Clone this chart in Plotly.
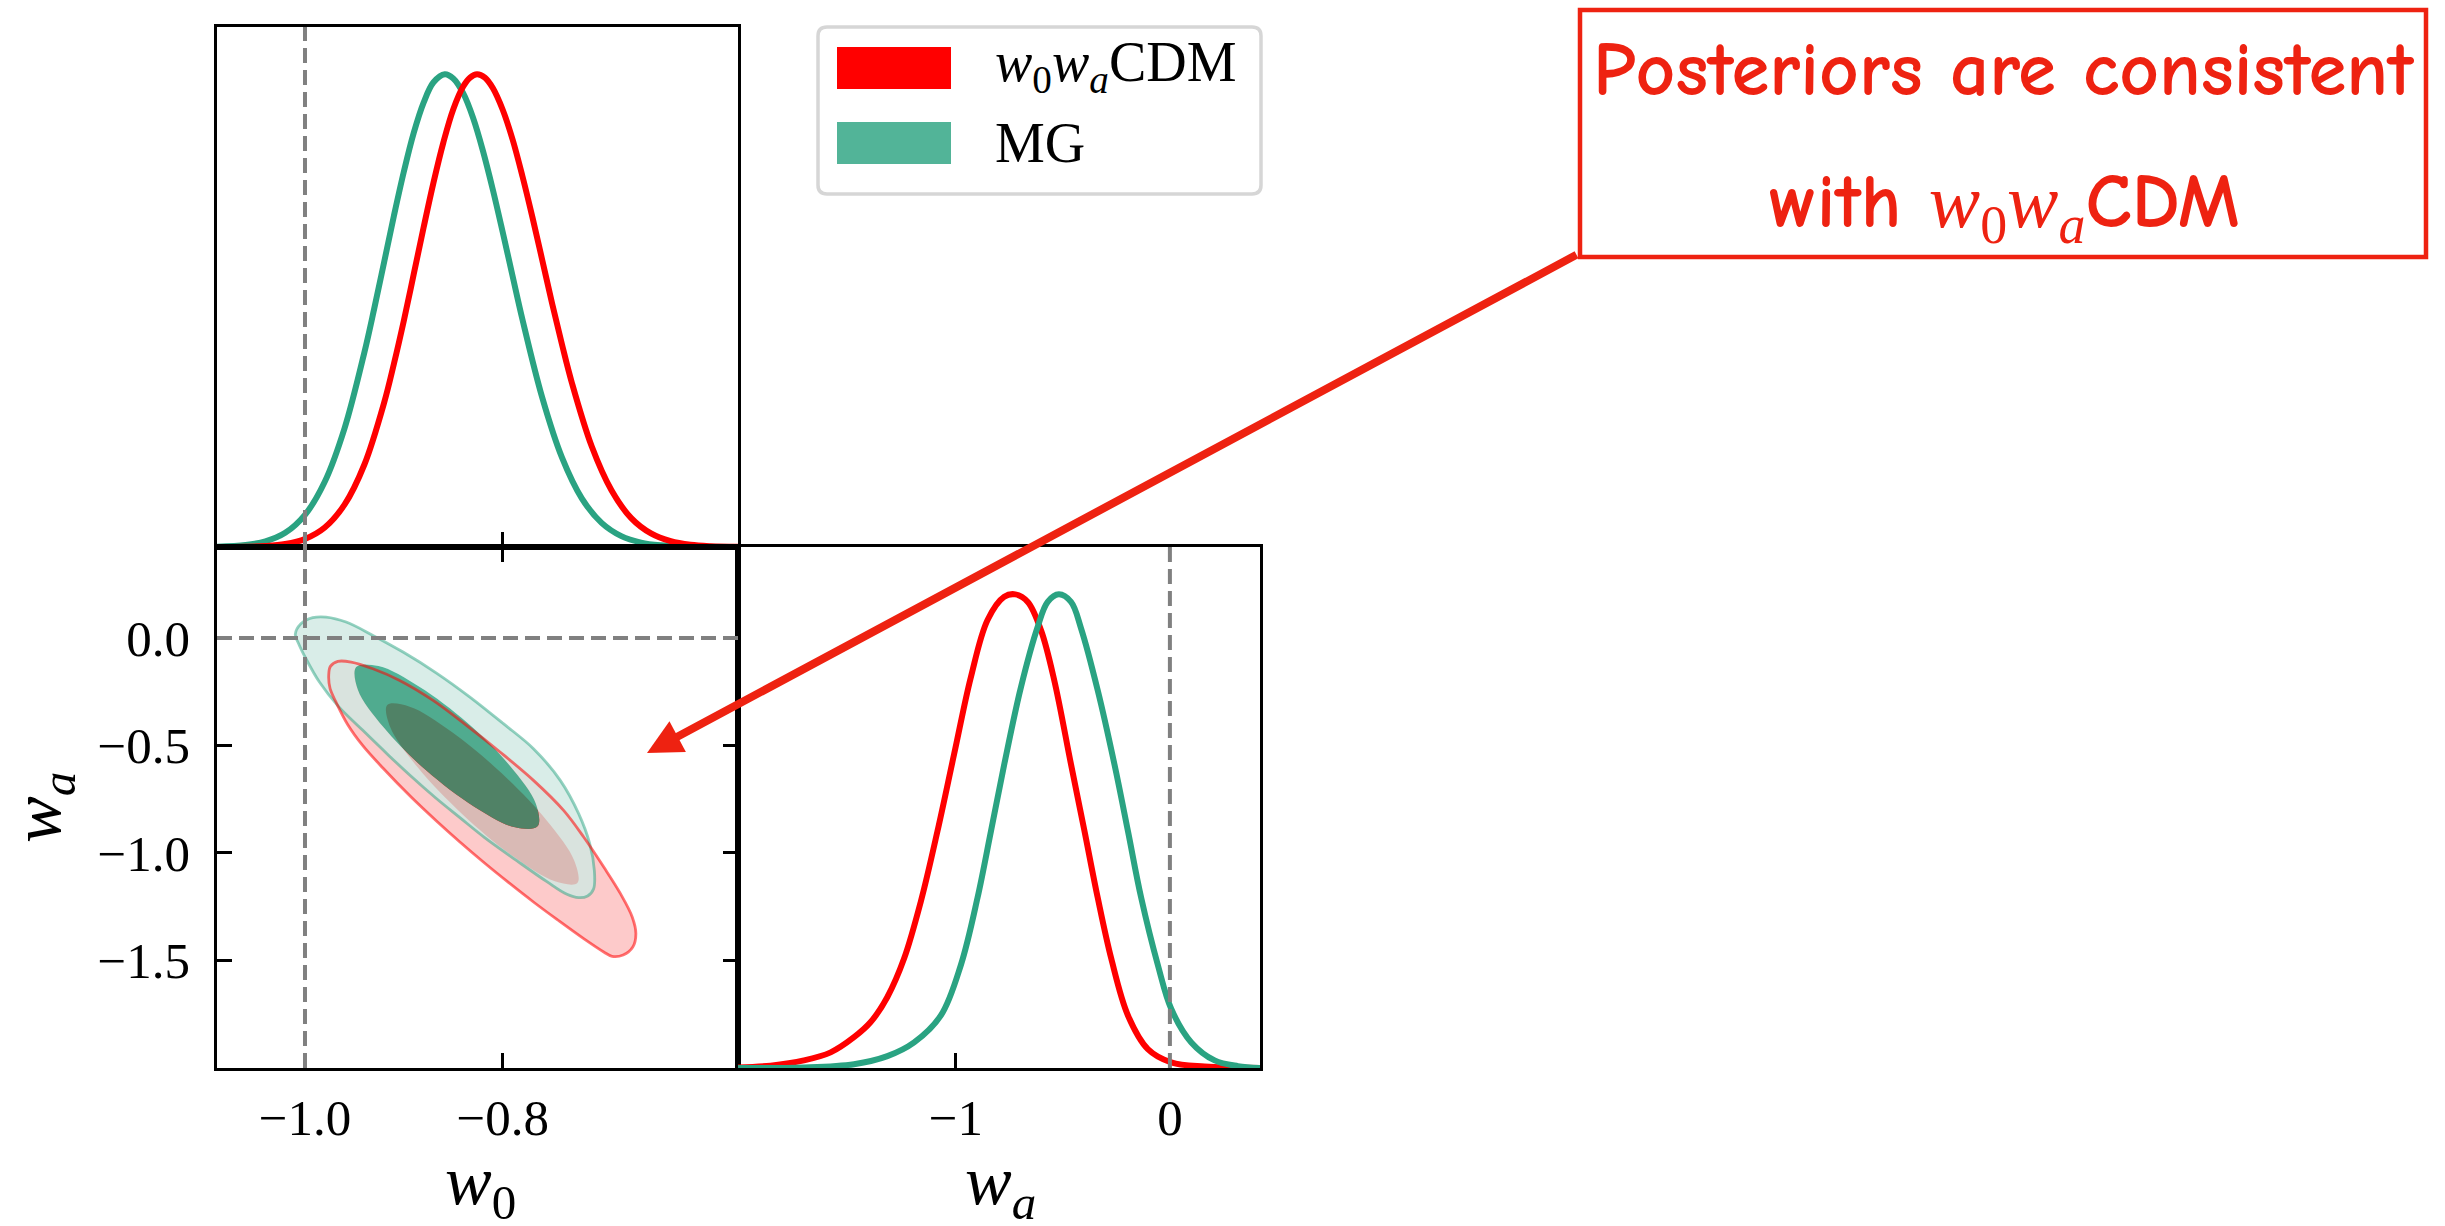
import plotly.graph_objects as go

W, H = 2445, 1226

# ---------------- data ----------------
# 1D marginal of w0 (normalised to peak = 1)
w0_red_x = [-1.089, -1.06, -1.04, -1.02, -1.00, -0.98, -0.96, -0.94, -0.92, -0.91, -0.90, -0.89, -0.88, -0.87,
            -0.86, -0.85, -0.84, -0.833, -0.826, -0.818, -0.81, -0.80, -0.79, -0.78, -0.77, -0.76, -0.75, -0.74,
            -0.73, -0.71, -0.69, -0.67, -0.65, -0.63, -0.61, -0.59, -0.562]
w0_red_p = [0.0001, 0.0006, 0.0021, 0.0064, 0.0171, 0.0413, 0.0896, 0.174, 0.305, 0.388, 0.479, 0.577, 0.676, 0.771,
            0.856, 0.926, 0.974, 0.993, 1.0, 0.993, 0.971, 0.925, 0.862, 0.784, 0.698, 0.607, 0.515, 0.428,
            0.347, 0.213, 0.120, 0.061, 0.0286, 0.0122, 0.0047, 0.0017, 0.0004]
w0_mg_x = [-1.089, -1.06, -1.04, -1.02, -1.00, -0.98, -0.96, -0.94, -0.93, -0.92, -0.91, -0.90, -0.89, -0.88,
           -0.87, -0.8586, -0.85, -0.84, -0.83, -0.82, -0.81, -0.80, -0.79, -0.78, -0.76, -0.74, -0.72, -0.70,
           -0.68, -0.66, -0.64, -0.62, -0.60, -0.562]
w0_mg_p = [0.0007, 0.0043, 0.012, 0.030, 0.068, 0.138, 0.251, 0.411, 0.504, 0.602, 0.701, 0.794, 0.876, 0.940,
           0.983, 1.0, 0.991, 0.960, 0.908, 0.838, 0.756, 0.666, 0.573, 0.481, 0.316, 0.189, 0.103, 0.051,
           0.023, 0.0094, 0.0035, 0.0012, 0.0004, 0.0001]

# 1D marginal of wa
wa_red_x = [-2.018, -1.866, -1.71, -1.585, -1.476, -1.398, -1.32, -1.242, -1.164, -1.086, -1.008, -0.93, -0.852,
            -0.774, -0.722, -0.664, -0.602, -0.54, -0.462, -0.399, -0.337, -0.274, -0.196, -0.103, 0.006, 0.162, 0.421]
wa_red_p = [0.001, 0.005, 0.016, 0.033, 0.065, 0.097, 0.15, 0.231, 0.351, 0.5, 0.663, 0.825, 0.946,
            0.995, 1.0, 0.984, 0.924, 0.818, 0.641, 0.5, 0.359, 0.231, 0.111, 0.04, 0.012, 0.003, 0.0]
wa_mg_x = [-2.018, -1.71, -1.476, -1.32, -1.195, -1.07, -0.977, -0.899, -0.836, -0.774, -0.696, -0.618, -0.571,
           -0.519, -0.462, -0.415, -0.337, -0.259, -0.196, -0.134, -0.056, 0.006, 0.1, 0.209, 0.318, 0.421]
wa_mg_p = [0.0, 0.001, 0.008, 0.025, 0.054, 0.111, 0.217, 0.359, 0.5, 0.641, 0.804, 0.931, 0.984,
           1.0, 0.984, 0.928, 0.797, 0.641, 0.5, 0.359, 0.217, 0.125, 0.054, 0.016, 0.004, 0.0]

# 2D contours (w0, wa): outer = 95%, inner = 68%
mg95_w0 = [-1.0098, -1.0041, -0.9922, -0.9787, -0.9584, -0.9313, -0.9008, -0.867, -0.8332, -0.7993, -0.7689,
           -0.7418, -0.7232, -0.712, -0.7073, -0.708, -0.7141, -0.7232, -0.735, -0.7553, -0.7858, -0.8186,
           -0.8433, -0.8677, -0.8941, -0.9171, -0.9415, -0.9662, -0.9854, -0.999, -1.0064]
mg95_wa = [0.0171, 0.0667, 0.0947, 0.0978, 0.0745, 0.0124, -0.0652, -0.1629, -0.2747, -0.3988, -0.5152,
           -0.6626, -0.8178, -0.9575, -1.0816, -1.167, -1.2011, -1.2089, -1.1933, -1.1344, -1.0366, -0.928,
           -0.8364, -0.7449, -0.6378, -0.5385, -0.4298, -0.3181, -0.2048, -0.0962, -0.0264]
mg68_w0 = [-0.7648, -0.7665, -0.7926, -0.8355, -0.8843, -0.9255, -0.9482, -0.9465, -0.9205, -0.8775, -0.8288, -0.7875]
mg68_wa = [-0.8768, -0.7712, -0.5959, -0.3957, -0.2266, -0.1304, -0.135, -0.2405, -0.4159, -0.6161, -0.7852, -0.8814]
cdm95_w0 = [-0.976, -0.9743, -0.9668, -0.9533, -0.9313, -0.9042, -0.8704, -0.8366, -0.8027, -0.7689, -0.7384,
            -0.7181, -0.6978, -0.6809, -0.669, -0.6653, -0.6684, -0.6782, -0.6893, -0.6978, -0.7181, -0.7448,
            -0.7689, -0.7939, -0.8196, -0.8433, -0.867, -0.8924, -0.9212, -0.9415, -0.9567, -0.9685, -0.9746]
cdm95_wa = [-0.1738, -0.1319, -0.1086, -0.1117, -0.1428, -0.1971, -0.2902, -0.4066, -0.5307, -0.6626, -0.8023,
            -0.9264, -1.0661, -1.1902, -1.2989, -1.3765, -1.4385, -1.4758, -1.482, -1.4618, -1.3998, -1.3113,
            -1.229, -1.139, -1.0428, -0.9497, -0.852, -0.7418, -0.6052, -0.5012, -0.4035, -0.2995, -0.2359]
cdm68_w0 = [-0.7245, -0.7276, -0.7553, -0.801, -0.8518, -0.8941, -0.9168, -0.9137, -0.886, -0.8403, -0.7895, -0.7472]
cdm68_wa = [-1.1406, -1.0366, -0.8504, -0.63, -0.4361, -0.3197, -0.3119, -0.4159, -0.6021, -0.8225, -1.0164, -1.1328]

# fiducial (LCDM) values and ticks
w0_fid, wa_fid = -1.0, 0.0
w0_ticks, w0_ticktext = [-1.0, -0.8], ["\u22121.0", "\u22120.8"]
wa_ticks, wa_ticktext = [0.0, -0.5, -1.0, -1.5], ["0.0", "\u22120.5", "\u22121.0", "\u22121.5"]
wa_xticks, wa_xticktext = [-1, 0], ["\u22121", "0"]
w0_range = [-1.089, -0.562]
wa_range_y = [-2.002, 0.424]
wa_range_x = [-2.018, 0.421]
series_names = ["<i>w</i><sub>0</sub><i>w</i><sub><i>a</i></sub>CDM", "MG"]

# ---------------- styling ----------------
RED = "rgb(255,0,0)"
TEAL = "rgb(42,163,130)"
PINK_FILL = "rgb(253,202,202)"
TEAL2_FILL = "rgba(208,233,226,0.8)"
TEAL1_FILL = "rgba(36,162,127,0.8)"
RED_OUT = "rgba(255,0,0,0.55)"
TEAL_OUT = "rgba(42,163,130,0.5)"
ANN_RED = "rgb(238,34,17)"
SERIF = "Liberation Serif, Times New Roman, serif"
COMIC = "Comic Sans MS, Comic Neue, Noto Sans, sans-serif"


def px(x):
    return x / W


def py(y):
    return 1 - y / H


def closed(a):
    return list(a) + [a[0]]


fig = go.Figure()
SM = 1.0

# ---- panel B: 2D contours ----
fig.add_trace(go.Scatter(x=closed(cdm95_w0), y=closed(cdm95_wa), mode="lines", fill="toself",
                         fillcolor=PINK_FILL, line=dict(width=0, shape="spline", smoothing=SM),
                         xaxis="x2", yaxis="y2", hoverinfo="skip"))
fig.add_trace(go.Scatter(x=closed(cdm68_w0), y=closed(cdm68_wa), mode="lines", fill="toself",
                         fillcolor=RED, line=dict(width=0, shape="spline", smoothing=SM),
                         xaxis="x2", yaxis="y2", hoverinfo="skip"))
# MG 95% band (annulus, inner ring has opposite orientation)
ann_x = closed(mg95_w0) + [None] + closed(mg68_w0)
ann_y = closed(mg95_wa) + [None] + closed(mg68_wa)
fig.add_trace(go.Scatter(x=ann_x, y=ann_y, mode="lines", fill="toself", fillcolor=TEAL2_FILL,
                         line=dict(width=0, shape="spline", smoothing=SM),
                         xaxis="x2", yaxis="y2", hoverinfo="skip"))
fig.add_trace(go.Scatter(x=closed(mg68_w0), y=closed(mg68_wa), mode="lines", fill="toself",
                         fillcolor=TEAL1_FILL, line=dict(width=0, shape="spline", smoothing=SM),
                         xaxis="x2", yaxis="y2", hoverinfo="skip"))
fig.add_trace(go.Scatter(x=closed(mg95_w0), y=closed(mg95_wa), mode="lines",
                         line=dict(color=TEAL_OUT, width=2.8, shape="spline", smoothing=SM),
                         xaxis="x2", yaxis="y2", hoverinfo="skip"))
fig.add_trace(go.Scatter(x=closed(cdm95_w0), y=closed(cdm95_wa), mode="lines",
                         line=dict(color=RED_OUT, width=2.8, shape="spline", smoothing=SM),
                         xaxis="x2", yaxis="y2", hoverinfo="skip"))

# ---- panel A: w0 marginal ----
fig.add_trace(go.Scatter(x=w0_mg_x, y=w0_mg_p, mode="lines",
                         line=dict(color=TEAL, width=6, shape="spline", smoothing=1.0),
                         xaxis="x", yaxis="y", hoverinfo="skip"))
fig.add_trace(go.Scatter(x=w0_red_x, y=w0_red_p, mode="lines",
                         line=dict(color=RED, width=6, shape="spline", smoothing=1.0),
                         xaxis="x", yaxis="y", hoverinfo="skip"))

# ---- panel C: wa marginal ----
fig.add_trace(go.Scatter(x=wa_red_x, y=wa_red_p, mode="lines",
                         line=dict(color=RED, width=6, shape="spline", smoothing=1.0),
                         xaxis="x3", yaxis="y3", hoverinfo="skip"))
fig.add_trace(go.Scatter(x=wa_mg_x, y=wa_mg_p, mode="lines",
                         line=dict(color=TEAL, width=6, shape="spline", smoothing=1.0),
                         xaxis="x3", yaxis="y3", hoverinfo="skip"))

# ---------------- axes ----------------
xl, xm, xr = px(217), px(738), px(1260)
yt, ym, yb = py(27), py(547), py(1068)

common = dict(showgrid=False, zeroline=False, showline=True, linecolor="black", linewidth=2.8,
              ticklen=15, tickwidth=2.8, tickcolor="black",
              tickfont=dict(family=SERIF, size=51, color="black"))

fig.update_layout(
    width=W, height=H, margin=dict(l=0, r=0, t=0, b=0),
    paper_bgcolor="white", plot_bgcolor="rgba(0,0,0,0)", showlegend=False,
    xaxis=dict(domain=[xl, xm], anchor="y", range=w0_range, tickvals=w0_ticks, ticks="inside",
               showticklabels=False, mirror=True, **common),
    yaxis=dict(domain=[ym, yt], anchor="x", range=[0, 1.1], ticks="", showticklabels=False,
               mirror=True, **common),
    xaxis2=dict(domain=[xl, xm], anchor="y2", range=w0_range, tickvals=w0_ticks, ticktext=w0_ticktext,
                ticks="inside", mirror="ticks", ticklabelstandoff=3, **common),
    yaxis2=dict(domain=[yb, ym], anchor="x2", range=wa_range_y, tickvals=wa_ticks, ticktext=wa_ticktext,
                ticks="inside", mirror="ticks", ticklabelstandoff=14, **common),
    xaxis3=dict(domain=[xm, xr], anchor="y3", range=wa_range_x, tickvals=wa_xticks, ticktext=wa_xticktext,
                ticks="inside", mirror=True, ticklabelstandoff=3, **common),
    yaxis3=dict(domain=[yb, ym], anchor="x3", range=[0, 1.1], ticks="", showticklabels=False,
                mirror=True, **common),
)

# ---------------- reference (dashed) lines ----------------
dash = dict(color="rgb(128,128,128)", width=4, dash="15px,7px")
shapes = [
    dict(type="line", xref="x", yref="y domain", x0=w0_fid, x1=w0_fid, y0=0, y1=1, line=dash, layer="above"),
    dict(type="line", xref="x2", yref="y2 domain", x0=w0_fid, x1=w0_fid, y0=0, y1=1, line=dash, layer="above"),
    dict(type="line", xref="x2 domain", yref="y2", x0=0, x1=1, y0=wa_fid, y1=wa_fid, line=dash, layer="above"),
    dict(type="line", xref="x3", yref="y3 domain", x0=wa_fid, x1=wa_fid, y0=0, y1=1, line=dash, layer="above"),
]

# ---------------- legend (drawn manually) ----------------
lx0, lx1, ly0, ly1, r = 818, 1261, 27, 194, 9
legend_path = (f"M {px(lx0 + r)},{py(ly0)} L {px(lx1 - r)},{py(ly0)} "
               f"Q {px(lx1)},{py(ly0)} {px(lx1)},{py(ly0 + r)} L {px(lx1)},{py(ly1 - r)} "
               f"Q {px(lx1)},{py(ly1)} {px(lx1 - r)},{py(ly1)} L {px(lx0 + r)},{py(ly1)} "
               f"Q {px(lx0)},{py(ly1)} {px(lx0)},{py(ly1 - r)} L {px(lx0)},{py(ly0 + r)} "
               f"Q {px(lx0)},{py(ly0)} {px(lx0 + r)},{py(ly0)} Z")
shapes.append(dict(type="path", xref="paper", yref="paper", path=legend_path,
                   line=dict(color="rgb(214,214,214)", width=3.5), fillcolor="white", layer="above"))
shapes.append(dict(type="rect", xref="paper", yref="paper", x0=px(837), x1=px(951), y0=py(89), y1=py(47),
                   line=dict(width=0), fillcolor=RED, layer="above"))
shapes.append(dict(type="rect", xref="paper", yref="paper", x0=px(837), x1=px(951), y0=py(164), y1=py(122),
                   line=dict(width=0), fillcolor="rgb(82,180,152)", layer="above"))

# ---------------- annotation box ----------------
shapes.append(dict(type="rect", xref="paper", yref="paper", x0=px(1580), x1=px(2426), y0=py(257), y1=py(10),
                   line=dict(color=ANN_RED, width=4.5), fillcolor="white", layer="above"))

fig.update_layout(shapes=shapes)

annotations = [
    # axis titles
    dict(text="<i>w</i><sub>0</sub>", x=px(480), y=py(1186), xref="paper", yref="paper",
         showarrow=False, font=dict(family=SERIF, size=70, color="black"), xanchor="center", yanchor="middle"),
    dict(text="<i>w</i><sub><i>a</i></sub>", x=px(1000), y=py(1186), xref="paper", yref="paper",
         showarrow=False, font=dict(family=SERIF, size=70, color="black"), xanchor="center", yanchor="middle"),
    dict(text="<i>w</i><sub><i>a</i></sub>", x=px(42), y=py(808), xref="paper", yref="paper", textangle=-90,
         showarrow=False, font=dict(family=SERIF, size=70, color="black"), xanchor="center", yanchor="middle"),
    # legend labels
    dict(text=series_names[0], x=px(993), y=py(66), xref="paper", yref="paper", showarrow=False,
         font=dict(family=SERIF, size=56, color="black"), xanchor="left", yanchor="middle"),
    dict(text=series_names[1], x=px(993), y=py(143), xref="paper", yref="paper", showarrow=False,
         font=dict(family=SERIF, size=56, color="black"), xanchor="left", yanchor="middle"),
    # callout text
    dict(text="<b>Posteriors are consistent</b>", x=px(2004), y=py(70), xref="paper", yref="paper",
         showarrow=False, font=dict(family=COMIC, size=77, color=ANN_RED),
         xanchor="center", yanchor="middle"),
    dict(text=("<b>with </b><span style=\"font-family:Liberation Serif\"><i>w</i><sub>0</sub>"
               "<i>w</i><sub><i>a</i></sub></span><b>CDM</b>"),
         x=px(2004), y=py(206), xref="paper", yref="paper", showarrow=False,
         font=dict(family=COMIC, size=77, color=ANN_RED),
         xanchor="center", yanchor="middle"),
    # arrow
    dict(text="", x=px(647), y=py(753), xref="paper", yref="paper", showarrow=True,
         ax=931, ay=-499, arrowhead=2, arrowsize=0.87, arrowwidth=8, arrowcolor=ANN_RED, standoff=0),
]
fig.update_layout(annotations=annotations)

fig.write_html("out.html")
